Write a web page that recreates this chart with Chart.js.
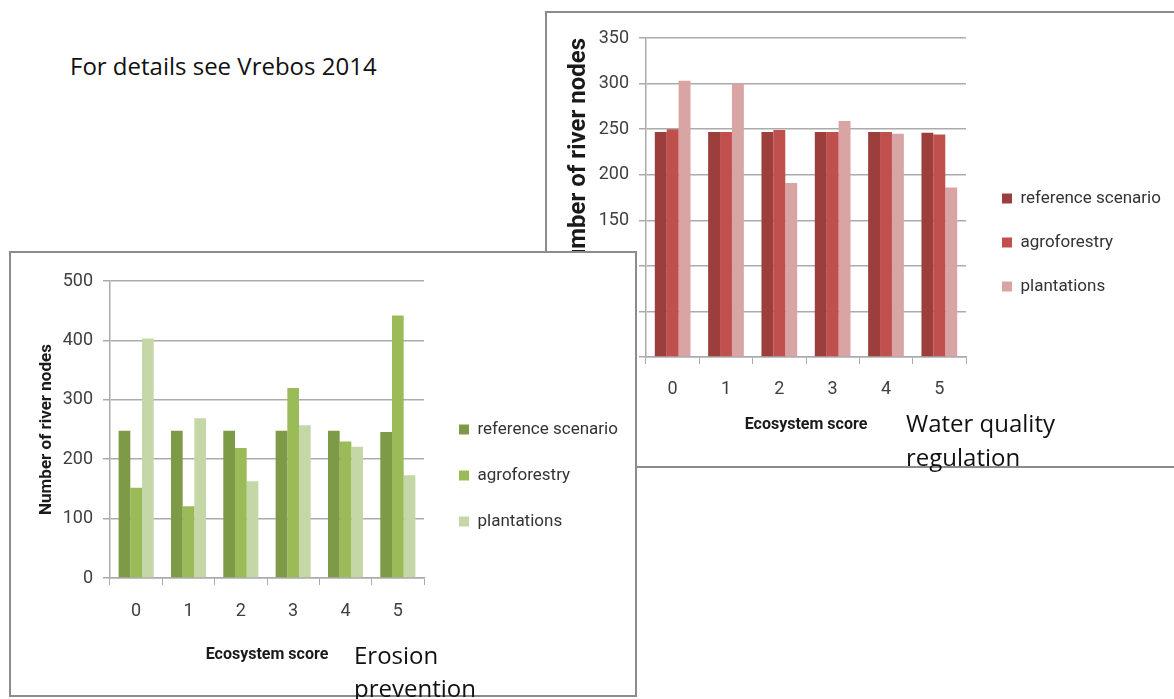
<!DOCTYPE html>
<html>
<head>
<meta charset="utf-8">
<script src="https://cdn.jsdelivr.net/npm/chart.js@4.4.0/dist/chart.umd.min.js"></script>
<style>
  body { margin: 0; width: 1174px; height: 699px; overflow: hidden; background: #fff; position: relative; font-family: "Open Sans", sans-serif; }
  .box { position: absolute; background: #fff; border: 2px solid #8c8c8c; box-sizing: border-box; }
  .note { position: absolute; color: #111; white-space: nowrap; }
  canvas { position: absolute; }
</style>
</head>
<body>
<div class="note" style="left:70px;top:49px;font-size:24px;">For details see Vrebos 2014</div>

<div class="box" style="left:545px;top:11px;width:700px;height:457px;"></div>
<canvas id="waterChart" width="629" height="454" style="left:545px;top:12px;"></canvas>
<div class="note" style="left:906px;top:406px;font-size:24px;line-height:34px;">Water quality<br>regulation</div>

<div class="box" style="left:9px;top:251px;width:628px;height:446px;"></div>
<canvas id="erosionChart" width="626" height="443" style="left:10px;top:252px;"></canvas>
<div class="note" style="left:354px;top:638px;font-size:24px;line-height:33px;">Erosion<br>prevention</div>

<script>
const scoreLabels = ["0", "1", "2", "3", "4", "5"];
const seriesNames = ["reference scenario", "agroforestry", "plantations"];

// water quality regulation (red chart)
const waterReference = [247, 247, 247, 247, 247, 246];
const waterAgroforestry = [250, 247, 249, 247, 247, 244];
const waterPlantations = [303, 300, 191, 259, 245, 186];
const waterColors = ["#9b3e3c", "#c0504d", "#d9a5a4"];

// erosion prevention (green chart)
const erosionReference = [248, 248, 248, 248, 248, 246];
const erosionAgroforestry = [152, 121, 219, 320, 230, 442];
const erosionPlantations = [403, 269, 163, 257, 221, 173];
const erosionColors = ["#7d9a46", "#9bbb59", "#c6d7a7"];

const chartFont = "Roboto, sans-serif";
const gridColor = "#ababab";

// keeps the legend at a fixed width and spot
const placeLegend = {
  id: "placeLegend",
  afterInit(chart, args, opts) {
    const lg = chart.legend;
    const fit = lg.fit;
    lg.fit = function () { fit.call(this); this.width = opts.width; };
  },
  afterLayout(chart, args, opts) {
    const lg = chart.legend;
    const h = lg.height;
    lg.left = opts.x; lg.right = opts.x + opts.width;
    lg.top = opts.y; lg.bottom = opts.y + h;
  }
};

function makeChart(id, values, colors, yMax, step, g) {
  const datasets = values.map((v, i) => ({
    label: seriesNames[i],
    data: v,
    backgroundColor: colors[i],
    borderWidth: 0,
    categoryPercentage: 0.67,
    barPercentage: 1.0
  }));

  return new Chart(document.getElementById(id), {
    type: "bar",
    data: { labels: scoreLabels, datasets: datasets },
    plugins: [placeLegend],
    options: {
      responsive: false,
      animation: false,
      layout: { padding: { left: g.padLeft, top: g.padTop, right: g.padRight, bottom: g.padBottom } },
      plugins: {
        legend: {
          position: "right",
          align: "start",
          labels: {
            boxWidth: 10, boxHeight: 10, padding: g.legendGap,
            color: "#333", font: { family: chartFont, size: 17 }
          }
        },
        placeLegend: { x: g.legendX, y: g.legendY, width: 200 },
        tooltip: { enabled: false }
      },
      scales: {
        x: {
          afterFit: s => { s.height = g.xHeight; },
          grid: { drawOnChartArea: false, drawTicks: true, tickLength: 7, color: gridColor, offset: true },
          border: { color: gridColor, width: 1.5 },
          ticks: { color: "#404040", padding: g.xTickPad, font: { family: chartFont, size: 18 } },
          title: {
            display: true, text: "Ecosystem score", color: "#1a1a1a", padding: 0,
            font: { family: chartFont, size: 16, weight: "bold" }
          }
        },
        y: {
          min: 0, max: yMax,
          afterFit: s => { s.width = g.yWidth; },
          grid: { color: gridColor, lineWidth: 1.5, tickLength: 7 },
          border: { color: gridColor, width: 1.5 },
          ticks: { stepSize: step, color: "#404040", padding: 10, font: { family: chartFont, size: 18 } },
          title: {
            display: true, text: "Number of river nodes", color: "#1a1a1a", padding: 0,
            align: g.yTitleAlign,
            font: { family: chartFont, size: g.yTitleSize, weight: "bold" }
          }
        }
      }
    }
  });
}

makeChart("waterChart", [waterReference, waterAgroforestry, waterPlantations], waterColors, 350, 50, {
  padLeft: 20, padTop: 26, padRight: 8, padBottom: 31,
  yWidth: 81, xHeight: 78, xTickPad: 15,
  yTitleSize: 24, yTitleAlign: "end",
  legendX: 430, legendY: 151, legendGap: 27
});

makeChart("erosionChart", [erosionReference, erosionAgroforestry, erosionPlantations], erosionColors, 500, 100, {
  padLeft: 27, padTop: 29, padRight: 12, padBottom: 30,
  yWidth: 73, xHeight: 87, xTickPad: 16,
  yTitleSize: 17, yTitleAlign: "center",
  legendX: 420, legendY: 140, legendGap: 29
});
</script>
</body>
</html>
